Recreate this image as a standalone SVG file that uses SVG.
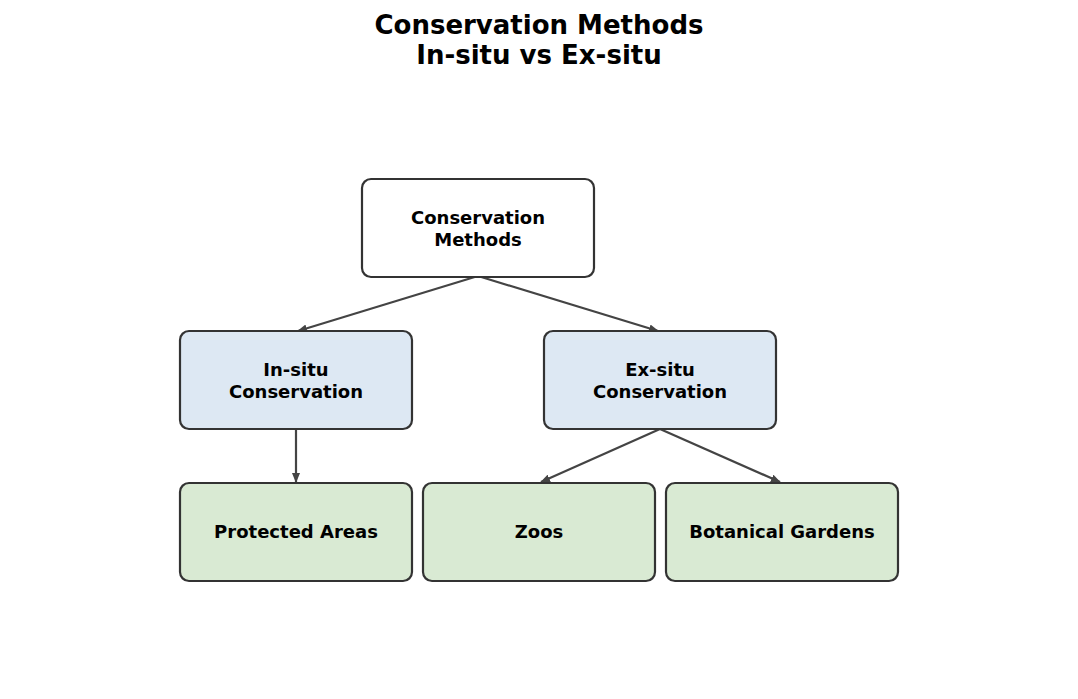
<svg xmlns="http://www.w3.org/2000/svg" width="1078" height="699" viewBox="0 0 1078 699">
<style>
.n{stroke:#333;stroke-width:2.2}
.t{font-family:"DejaVu Sans",sans-serif;font-weight:bold;font-size:18px;text-anchor:middle;fill:#000}
.c{stroke:#444;stroke-width:2.2;fill:none;marker-end:url(#a)}
</style>
<defs><marker id="a" markerWidth="10" markerHeight="8" refX="9" refY="4" orient="auto" markerUnits="userSpaceOnUse"><path d="M0,0L10,4L0,8z" fill="#444"/></marker></defs>
<rect width="1078" height="699" fill="#fff"/>
<text class="t" x="539" y="34" style="font-size:26px">Conservation Methods</text>
<text class="t" x="539" y="64" style="font-size:26px">In-situ vs Ex-situ</text>
<g id="connectors">
<path class="c" d="M478,276L298,331"/>
<path class="c" d="M478,276L658,331"/>
<path class="c" d="M296,429L296,482"/>
<path class="c" d="M660,429L541,482"/>
<path class="c" d="M660,429L780,482"/>
</g>
<g id="root"><rect class="n" x="362" y="179" width="232" height="98" rx="9" fill="#fff"/><text class="t" x="478" y="224">Conservation</text><text class="t" x="478" y="246">Methods</text></g>
<g id="insitu"><rect class="n" x="180" y="331" width="232" height="98" rx="9" fill="#dde8f3"/><text class="t" x="296" y="376">In-situ</text><text class="t" x="296" y="398">Conservation</text></g>
<g id="exsitu"><rect class="n" x="544" y="331" width="232" height="98" rx="9" fill="#dde8f3"/><text class="t" x="660" y="376">Ex-situ</text><text class="t" x="660" y="398">Conservation</text></g>
<g id="protected"><rect class="n" x="180" y="483" width="232" height="98" rx="9" fill="#d9ead3"/><text class="t" x="296" y="538">Protected Areas</text></g>
<g id="zoos"><rect class="n" x="423" y="483" width="232" height="98" rx="9" fill="#d9ead3"/><text class="t" x="539" y="538">Zoos</text></g>
<g id="botanical"><rect class="n" x="666" y="483" width="232" height="98" rx="9" fill="#d9ead3"/><text class="t" x="782" y="538">Botanical Gardens</text></g>
</svg>
